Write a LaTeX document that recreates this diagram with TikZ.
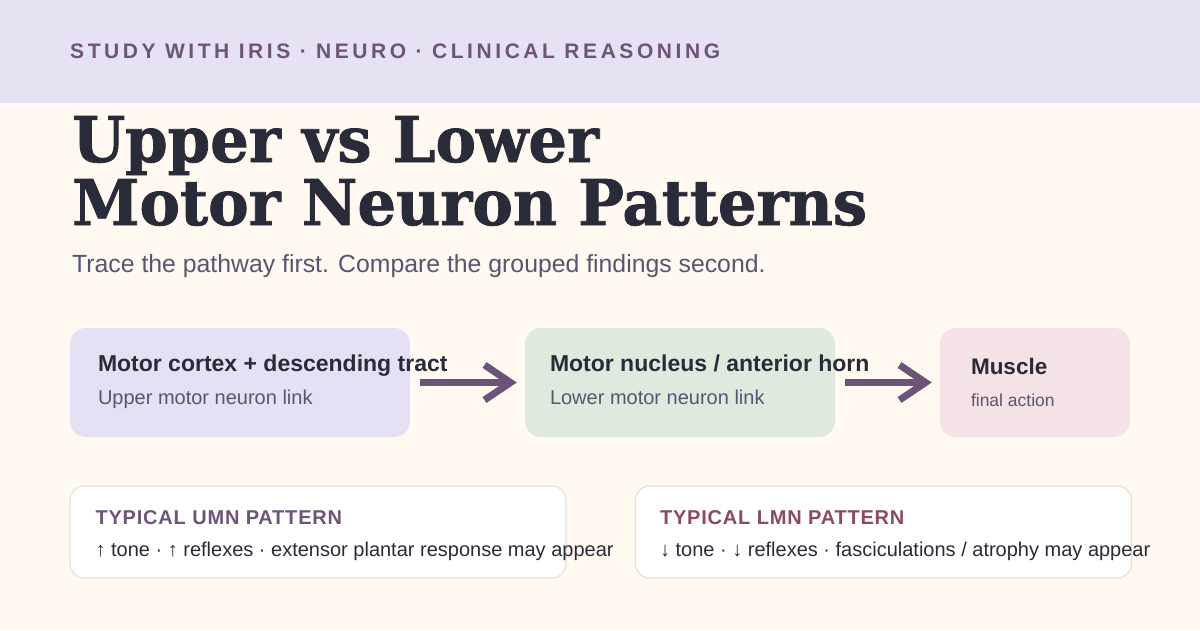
\documentclass[tikz,border=0pt]{standalone}
\usepackage{fontspec}
\setmainfont{Liberation Sans}
\newfontfamily\headfont{DejaVu Serif}[FakeStretch=0.965, FakeBold=1.2]
\newfontfamily\kickerfont{Liberation Sans}[LetterSpace=17]
\newfontfamily\capsfont{Liberation Sans}[LetterSpace=4]
\usetikzlibrary{positioning,arrows.meta,calc}
\definecolor{pagebg}{HTML}{FFF9F1}
\definecolor{bandbg}{HTML}{E6E1F3}
\definecolor{plum}{HTML}{6E5479}
\definecolor{ink}{HTML}{2A2B38}
\definecolor{muted}{HTML}{585570}
\definecolor{umnbg}{HTML}{E5E0F3}
\definecolor{lmnbg}{HTML}{DFEADF}
\definecolor{musbg}{HTML}{F5E2E6}
\definecolor{arrowc}{HTML}{6B5478}
\definecolor{cardline}{HTML}{E8E0D4}
\definecolor{rose}{HTML}{8B4A62}

\begin{document}
\begin{tikzpicture}[
    x=1pt, y=-1pt,
    block/.style={rounded corners=16pt, minimum width=#1, minimum height=109pt, inner sep=0pt},
    card/.style={draw=cardline, line width=1.2pt, fill=white, rounded corners=14pt, minimum width=496pt, minimum height=92pt, inner sep=0pt},
    btitle/.style={anchor=base west, inner sep=0pt, text=ink, font=\fontsize{23}{27}\selectfont\bfseries},
    bsub/.style={anchor=base west, inner sep=0pt, text=muted, font=\fontsize{20}{24}\selectfont},
    ctitle/.style={anchor=base west, inner sep=0pt, font=\capsfont\fontsize{20}{24}\selectfont\bfseries},
    cbody/.style={anchor=base west, inner sep=0pt, text=ink, font=\fontsize{20}{24}\selectfont},
    headline/.style={anchor=base west, inner sep=0pt, text=ink, font=\headfont\fontsize{63}{68}\selectfont\bfseries},
    arr/.style={-{Straight Barb[length=26pt, width=35pt]}, line width=7pt, draw=arrowc, shorten <=10pt, shorten >=8pt}
]
    \useasboundingbox (0,0) rectangle (1200,630);
    \fill[pagebg] (0,0) rectangle (1200,630);
    \fill[bandbg] (0,0) rectangle (1200,103);

    \node[anchor=base west, inner sep=0pt, text=plum, font=\kickerfont\fontsize{21}{24}\selectfont\bfseries] (kicker) at (70,58) {STUDY WITH IRIS · NEURO · CLINICAL REASONING};
    \node[headline] (titleA) at (72,162) {Upper vs Lower};
    \node[headline] (titleB) at (72,225) {Motor Neuron Patterns};
    \node[anchor=base west, inner sep=0pt, text=muted, font=\fontsize{24.8}{28}\selectfont] (lead) at (72,272) {Trace the pathway first. Compare the grouped findings second.};

    \node[block=340pt, fill=umnbg] (cortex) at (240,382.5) {};
    \node[block=310pt, fill=lmnbg] (horn) at (680,382.5) {};
    \node[block=190pt, fill=musbg] (muscle) at (1035,382.5) {};

    \node[btitle] (cortexT) at ([shift={(28,44)}]cortex.north west) {Motor cortex + descending tract};
    \node[bsub] (cortexS) at ([shift={(28,77)}]cortex.north west) {Upper motor neuron link};
    \node[btitle] (hornT) at ([shift={(25,44)}]horn.north west) {Motor nucleus / anterior horn};
    \node[bsub] (hornS) at ([shift={(25,77)}]horn.north west) {Lower motor neuron link};
    \node[btitle, font=\fontsize{22.5}{27}\selectfont\bfseries] (muscleT) at ([shift={(31,47)}]muscle.north west) {Muscle};
    \node[bsub, font=\fontsize{17.5}{21}\selectfont] (muscleS) at ([shift={(31,79)}]muscle.north west) {final action};

    \draw[arr] (cortex) -- (horn);
    \draw[arr] (horn) -- (muscle);

    \node[card] (umn) at (318,532) {};
    \node[card] (lmn) at (883.5,532) {};
    \node[ctitle, text=plum] (umnT) at ([shift={(26,39)}]umn.north west) {TYPICAL UMN PATTERN};
    \node[cbody] (umnB) at ([shift={(26,71)}]umn.north west) {↑ tone · ↑ reflexes · extensor plantar response may appear};
    \node[ctitle, text=rose] (lmnT) at ([shift={(25,39)}]lmn.north west) {TYPICAL LMN PATTERN};
    \node[cbody] (lmnB) at ([shift={(25,71)}]lmn.north west) {↓ tone · ↓ reflexes · fasciculations / atrophy may appear};
\end{tikzpicture}
\end{document}
